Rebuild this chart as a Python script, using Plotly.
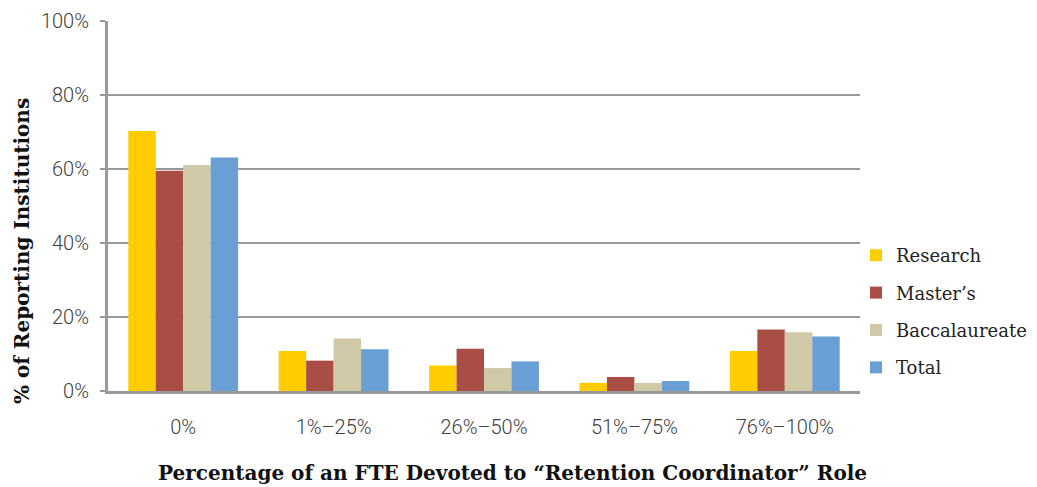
import plotly.graph_objects as go

categories = ["0%", "1%–25%", "26%–50%", "51%–75%", "76%–100%"]
research = [70.3, 10.8, 6.9, 2.2, 10.8]
masters = [59.5, 8.2, 11.4, 3.8, 16.6]
baccalaureate = [61.1, 14.2, 6.2, 2.2, 15.9]
total = [63.1, 11.3, 8.0, 2.7, 14.7]
series_names = ["Research", "Master’s", "Baccalaureate", "Total"]
series_values = [research, masters, baccalaureate, total]
colors = ["#FFCC00", "#A94E46", "#CFC9A8", "#6A9FD5"]
y_tickvals = [0, 20, 40, 60, 80, 100]
y_ticktext = ["0%", "20%", "40%", "60%", "80%", "100%"]

fig = go.Figure()
for name, vals, c in zip(series_names, series_values, colors):
    fig.add_trace(go.Bar(x=categories, y=vals, name=name, marker_color=c,
                         marker_line_width=0, legendgroup=name))

W, H = 1037, 487
L, R, T, B = 108, 177, 21, 96
PW, PH = W - L - R, H - T - B


def px_x(x):
    return (x - L) / PW


def px_y(y):
    return (H - B - y) / PH


fig.update_layout(
    width=W, height=H,
    margin=dict(l=L, r=R, t=T, b=B, pad=0, autoexpand=False),
    plot_bgcolor="white", paper_bgcolor="white",
    barmode="group", bargap=0.27, bargroupgap=0,
    legend=dict(x=px_x(856), y=px_y(237), xanchor="left", yanchor="top",
                font=dict(family="DejaVu Serif", size=18, color="#222"),
                tracegroupgap=11, traceorder="grouped", itemwidth=30,
                bgcolor="rgba(0,0,0,0)"),
    font=dict(family="Roboto", color="#404040"),
)
fig.update_yaxes(range=[0, 100], tickvals=y_tickvals, ticktext=y_ticktext,
                 showgrid=True, gridcolor="#999999", gridwidth=2,
                 showline=True, linecolor="#999999", linewidth=3,
                 ticks="outside", ticklen=5, tickcolor="#999999", tickwidth=2,
                 ticklabelstandoff=7,
                 tickfont=dict(family="Roboto", size=20, color="#404040", weight=300),
                 zeroline=False)
fig.update_xaxes(showline=True, linecolor="#999999", linewidth=3,
                 ticks="", ticklabelstandoff=16,
                 tickfont=dict(family="Roboto", size=20, color="#404040", weight=300),
                 showgrid=False)
fig.add_annotation(text="Percentage of an FTE Devoted to “Retention Coordinator” Role",
                   xref="paper", yref="paper", x=px_x(512), y=px_y(473),
                   xanchor="center", yanchor="middle", showarrow=False,
                   font=dict(family="DejaVu Serif", size=20, color="#111", weight="bold"))
fig.add_annotation(text="% of Reporting Institutions", textangle=-90,
                   xref="paper", yref="paper", x=px_x(22), y=px_y(251),
                   xanchor="center", yanchor="middle", showarrow=False,
                   font=dict(family="DejaVu Serif", size=20, color="#111", weight="bold"))

fig.write_html("out.html")
